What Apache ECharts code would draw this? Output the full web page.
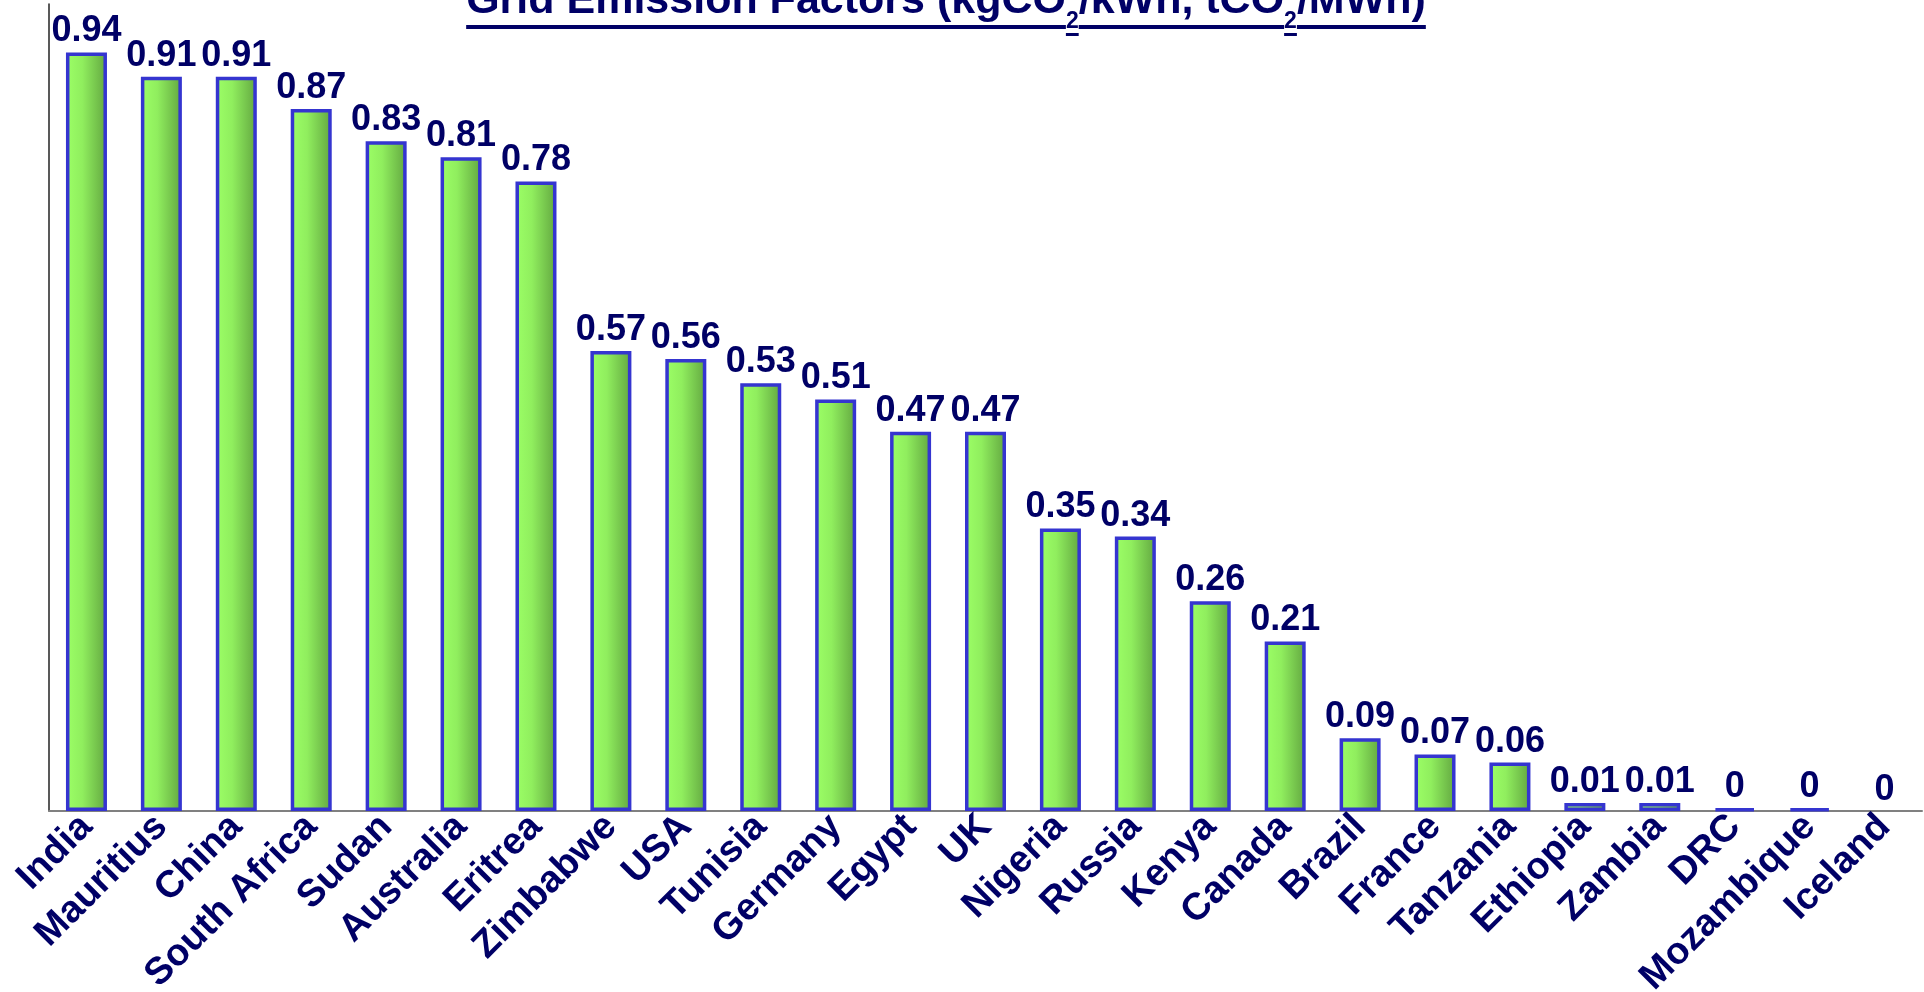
<!DOCTYPE html>
<html>
<head>
<meta charset="utf-8">
<script src="https://cdn.jsdelivr.net/npm/echarts@6/dist/echarts.min.js"></script>
<style>
  html, body { margin: 0; padding: 0; background: #fff; }
  #chart { width: 1924px; height: 992px; }
</style>
</head>
<body>
<div id="chart"></div>
<script>
var FONT = "'Liberation Sans', Arial, sans-serif";
var NAVY = "#000066";

var countries = ["India", "Mauritius", "China", "South Africa", "Sudan", "Australia", "Eritrea",
  "Zimbabwe", "USA", "Tunisia", "Germany", "Egypt", "UK", "Nigeria", "Russia", "Kenya",
  "Canada", "Brazil", "France", "Tanzania", "Ethiopia", "Zambia", "DRC", "Mozambique", "Iceland"];
// DRC and Mozambique are tiny but non zero (thin bar drawn), Iceland is exactly 0
var factors = [0.94, 0.91, 0.91, 0.87, 0.83, 0.81, 0.78, 0.57, 0.56, 0.53, 0.51, 0.47, 0.47,
  0.35, 0.34, 0.26, 0.21, 0.09, 0.07, 0.06, 0.01, 0.01, 0.003, 0.003, 0];

// title pieces: [text, isSubscript]
var titleParts = [["Grid Emission Factors (kgCO", false], ["2", true], ["/kWh, tCO", false],
  ["2", true], ["/MWh)", false]];

// title with underline, pieces measured on a canvas
var buildTitle = function () {
  var ctx = document.createElement("canvas").getContext("2d");
  var widths = titleParts.map(function (p) {
    ctx.font = "bold " + (p[1] ? 23 : 43) + "px " + FONT;
    return ctx.measureText(p[0]).width;
  });
  var total = widths.reduce(function (a, b) { return a + b; }, 0);
  var x = 946 - total / 2, els = [];
  titleParts.forEach(function (p, i) {
    var sub = p[1];
    els.push({
      type: "text", x: x, y: sub ? 33 : 23,
      style: { text: p[0], fill: NAVY, font: "bold " + (sub ? 23 : 43) + "px " + FONT,
        verticalAlign: "bottom" }
    });
    els.push({
      type: "rect",
      shape: { x: x, y: sub ? 33 : 25, width: widths[i], height: sub ? 3 : 4 },
      style: { fill: NAVY }
    });
    x += widths[i];
  });
  return els;
};

var chart = echarts.init(document.getElementById("chart"));

chart.setOption({
  backgroundColor: "#fff",
  animation: false,
  grid: { left: 49, right: 2, top: 4, bottom: 181, containLabel: false, outerBoundsMode: "none" },
  xAxis: {
    type: "category",
    data: countries,
    axisLine: { lineStyle: { color: "#808080", width: 2 } },
    axisTick: { show: false },
    axisLabel: {
      rotate: 45,
      interval: 0,
      margin: 10,
      color: NAVY,
      fontWeight: "bold",
      fontSize: 38,
      fontFamily: FONT
    }
  },
  yAxis: {
    type: "value",
    min: 0,
    max: 1,
    splitLine: { show: false },
    axisTick: { show: false },
    axisLabel: { show: false },
    axisLine: { show: true, lineStyle: { color: "#222", width: 1.5 } }
  },
  series: [{
    type: "bar",
    // no outline for an exact zero
    data: factors.map(function (v) {
      return v === 0 ? { value: v, itemStyle: { borderWidth: 0 } } : v;
    }),
    barWidth: 41,
    itemStyle: {
      color: {
        type: "linear", x: 0, y: 0, x2: 1, y2: 0,
        colorStops: [
          { offset: 0, color: "#9cff66" },
          { offset: 0.4, color: "#90ee5e" },
          { offset: 1, color: "#62a640" }
        ]
      },
      borderColor: "#3535d0",
      borderWidth: 3.5
    },
    label: {
      show: true,
      position: "top",
      distance: 3,
      color: NAVY,
      fontWeight: "bold",
      fontSize: 36,
      fontFamily: FONT,
      formatter: function (p) { return String(+p.value.toFixed(2)); }
    }
  }],
  graphic: buildTitle()
});
</script>
</body>
</html>
